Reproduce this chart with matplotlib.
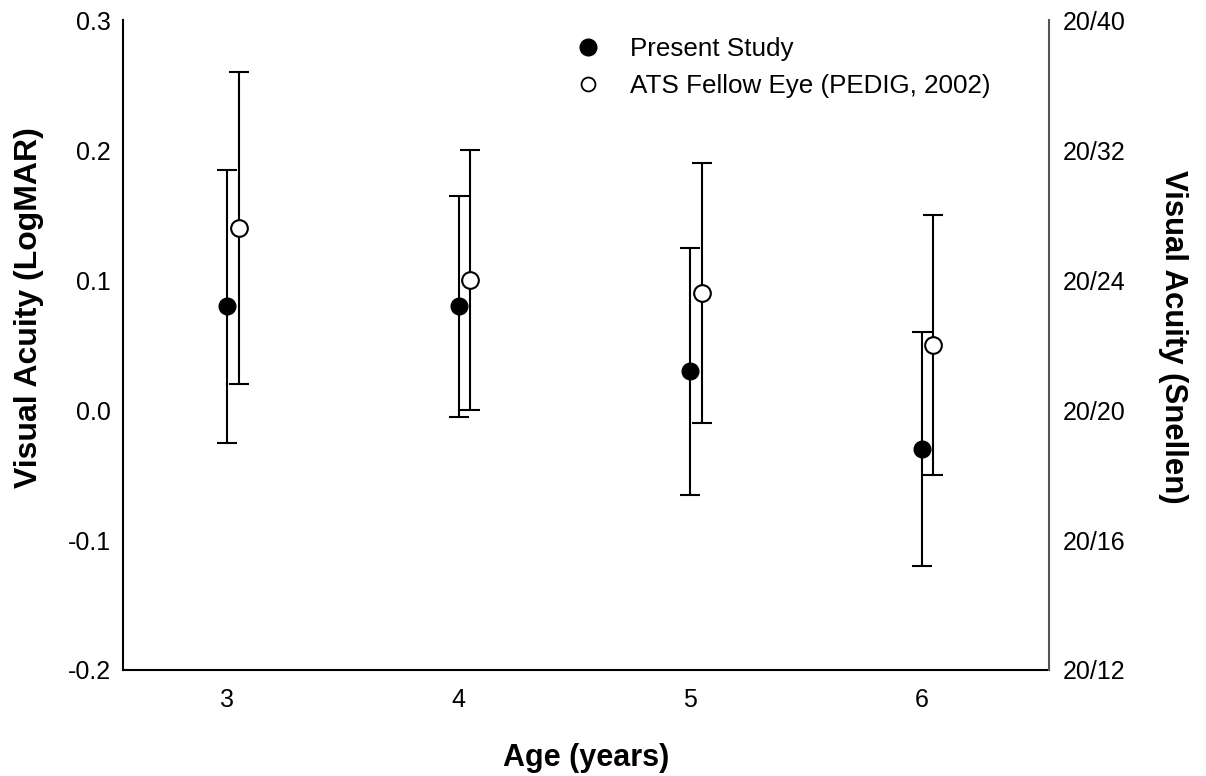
import matplotlib
matplotlib.use("Agg")
import matplotlib.pyplot as plt
from matplotlib.lines import Line2D
import numpy as np

plt.rcParams['font.family'] = ['Liberation Sans', 'DejaVu Sans']

ages = [3, 4, 5, 6]
present_mean = [0.08, 0.08, 0.03, -0.03]
present_low = [-0.025, -0.005, -0.065, -0.12]
present_high = [0.185, 0.165, 0.125, 0.06]
ats_mean = [0.14, 0.10, 0.09, 0.05]
ats_low = [0.02, 0.0, -0.01, -0.05]
ats_high = [0.26, 0.20, 0.19, 0.15]
left_ticks = [-0.2, -0.1, 0.0, 0.1, 0.2, 0.3]
left_labels = ['-0.2', '-0.1', '0.0', '0.1', '0.2', '0.3']
snellen_labels = ['20/12', '20/16', '20/20', '20/24', '20/32', '20/40']

fig = plt.figure(figsize=(12.06, 7.76), dpi=100)
ax = fig.add_axes([0.102, 0.1366, 0.768, 0.8374])

x = np.array(ages, dtype=float)
pm = np.array(present_mean); am = np.array(ats_mean)
perr = [pm - np.array(present_low), np.array(present_high) - pm]
aerr = [am - np.array(ats_low), np.array(ats_high) - am]

ax.errorbar(x + 0.05, am, yerr=aerr, fmt='o', color='black', mfc='white', mec='black',
            mew=1.5, ms=12, ecolor='black', elinewidth=1.5, capsize=7, capthick=1.5,
            zorder=3)
ax.errorbar(x, pm, yerr=perr, fmt='o', color='black', mfc='black', mec='black',
            ms=12, ecolor='black', elinewidth=1.5, capsize=7, capthick=1.5,
            zorder=4)

ax.set_xlim(2.55, 6.55)
ax.set_ylim(-0.2, 0.3)
ax.set_xticks(ages)
ax.set_xticklabels([str(a) for a in ages], fontsize=18)
ax.set_yticks(left_ticks)
ax.set_yticklabels(left_labels, fontsize=18)
ax.tick_params(axis='y', length=0, pad=9)
ax.tick_params(axis='x', length=0, pad=13)

for s in ['left', 'bottom']:
    ax.spines[s].set_linewidth(1.5)
ax.spines['top'].set_visible(False)
ax.spines['right'].set_visible(False)

ax.set_xlabel('Age (years)', fontsize=22, fontweight='bold', labelpad=22)
ax.set_ylabel('Visual Acuity (LogMAR)', fontsize=23, fontweight='bold')
ax.yaxis.set_label_coords(-0.085, 0.558)

ax2 = ax.twinx()
ax2.set_ylim(ax.get_ylim())
ax2.set_yticks(left_ticks)
ax2.set_yticklabels(snellen_labels, fontsize=18)
ax2.tick_params(length=0, pad=10)
for s in ['top', 'left', 'bottom']:
    ax2.spines[s].set_visible(False)
ax2.spines['right'].set_linewidth(1.5)
ax2.spines['right'].set_color('#555555')
ax2.set_ylabel('Visual Acuity (Snellen)', fontsize=22.4, fontweight='bold', rotation=-90)
ax2.yaxis.set_label_coords(1.150, 0.512)

handles = [Line2D([], [], marker='o', ls='none', mfc='black', mec='black', ms=12),
           Line2D([], [], marker='o', ls='none', mfc='white', mec='black', mew=1.3, ms=10)]
ax.legend(handles, ['Present Study', 'ATS Fellow Eye (PEDIG, 2002)'], loc='upper left',
          bbox_to_anchor=(0.4876, 0.974), frameon=False, fontsize=18.7, handletextpad=1.15,
          labelspacing=0.5, handlelength=1.0, borderpad=0, borderaxespad=0)

fig.savefig('out.png', dpi=100)
